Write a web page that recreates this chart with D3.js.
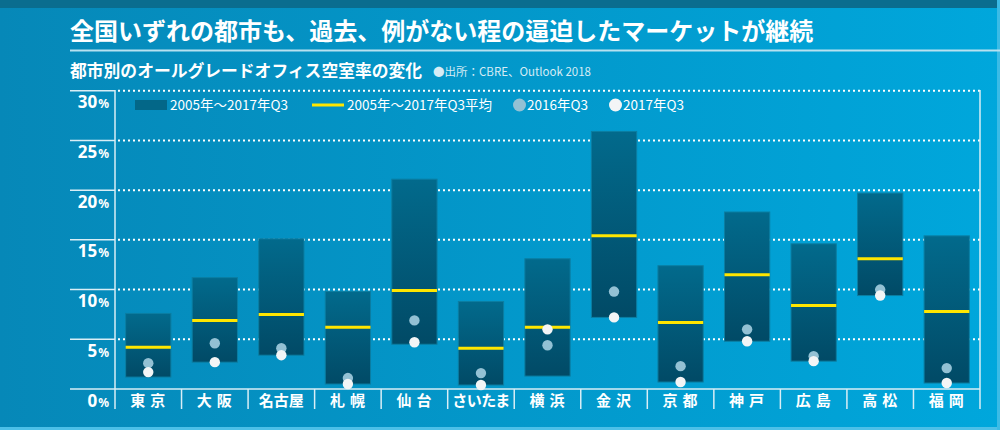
<!DOCTYPE html>
<html>
<head>
<meta charset="utf-8">
<script src="https://cdn.jsdelivr.net/npm/d3@7"></script>
<style>
    html, body { margin: 0; padding: 0; }
    body { width: 1000px; height: 430px; overflow: hidden; }
    svg { display: block; font-family: "Noto Sans CJK JP", "Noto Sans", sans-serif; }
</style>
</head>
<body>
<svg id="chart" width="1000" height="430"></svg>
<script>
/* global d3 */

// 都市別のオールグレードオフィス空室率 (%)
var cities = ["東京", "大阪", "名古屋", "札幌", "仙台", "さいたま", "横浜", "金沢", "京都", "神戸", "広島", "高松", "福岡"];
var rangeHigh = [7.6, 11.2, 15.1, 9.8, 21.1, 8.8, 13.1, 25.9, 12.4, 17.8, 14.6, 19.7, 15.4];
var rangeLow = [1.2, 2.7, 3.4, 0.5, 4.5, 0.4, 1.3, 7.2, 0.7, 4.8, 2.8, 9.4, 0.6];
var average = [4.2, 6.9, 7.5, 6.2, 9.9, 4.1, 6.2, 15.4, 6.7, 11.5, 8.4, 13.1, 7.8];
var q3_2016 = [2.6, 4.6, 4.1, 1.1, 6.9, 1.6, 4.4, 9.8, 2.3, 6.0, 3.3, 10.0, 2.1];
var q3_2017 = [1.7, 2.7, 3.4, 0.5, 4.7, 0.4, 6.0, 7.2, 0.7, 4.8, 2.8, 9.4, 0.6];
var yTicks = [0, 5, 10, 15, 20, 25, 30];

var title = "全国いずれの都市も、過去、例がない程の逼迫したマーケットが継続";
var subtitle = "都市別のオールグレードオフィス空室率の変化";
var source = "●出所：CBRE、Outlook 2018";

var legendItems = [
    { label: "2005年～2017年Q3", type: "bar" },
    { label: "2005年～2017年Q3平均", type: "avg" },
    { label: "2016年Q3", type: "dot16" },
    { label: "2017年Q3", type: "dot17" }
];

var colors = {
    avg: "#ffe600",
    dot16: "#93c1d4",
    dot17: "#f3f5f6",
    barStroke: "#0b7ea2"
};

var svg = d3.select("#chart");
var defs = svg.append("defs");

var bg = defs.append("linearGradient").attr("id", "bg")
    .attr("x1", "0").attr("x2", "1").attr("y1", "0").attr("y2", "0");
bg.append("stop").attr("offset", "0").attr("stop-color", "#0688b8");
bg.append("stop").attr("offset", "1").attr("stop-color", "#00a7dc");

var barGrad = defs.append("linearGradient").attr("id", "barGrad")
    .attr("x1", "0").attr("x2", "0").attr("y1", "0").attr("y2", "1");
barGrad.append("stop").attr("offset", "0").attr("stop-color", "#026a8c");
barGrad.append("stop").attr("offset", "1").attr("stop-color", "#014a66");

// background
svg.append("rect").attr("width", 1000).attr("height", 430).attr("fill", "url(#bg)");
svg.append("rect").attr("width", 1000).attr("height", 8).attr("fill", "#0a6d8f");
svg.append("rect").attr("y", 427).attr("width", 1000).attr("height", 3).attr("fill", "#4cc0e8");
svg.append("rect").attr("x", 997).attr("width", 3).attr("height", 430).attr("fill", "#3bbbe6");

// titles
svg.append("text")
    .attr("x", 70).attr("y", 40)
    .attr("fill", "#fff").attr("font-size", 24).attr("font-weight", "bold")
    .text(title);
svg.append("line")
    .attr("x1", 70).attr("x2", 1000).attr("y1", 50.5).attr("y2", 50.5)
    .attr("stroke", "#b7e1f0").attr("stroke-width", 2);
svg.append("text")
    .attr("x", 70).attr("y", 77)
    .attr("fill", "#fff").attr("font-size", 16.8).attr("font-weight", "bold")
    .text(subtitle);
svg.append("text")
    .attr("x", 433).attr("y", 76)
    .attr("fill", "#d6ecf5").attr("font-size", 11.5)
    .text(source);

var left = 115, right = 980;
var x = d3.scaleBand().domain(cities).range([left, right]).padding(0);
var xBar = d3.scaleBand().domain(cities).range([left, right])
    .paddingInner(0.32).paddingOuter(0.16);
var y = d3.scaleLinear().domain([0, 30]).range([389, 90.7]);

// gridlines (dotted)
svg.append("g").selectAll("line")
    .data(yTicks.filter(function (d) { return d > 0; }))
    .join("line")
    .attr("x1", left + 3).attr("x2", right)
    .attr("y1", function (d) { return y(d); })
    .attr("y2", function (d) { return y(d); })
    .attr("stroke", "#fff").attr("stroke-width", 2)
    .attr("stroke-dasharray", "2,3");

// y axis tick marks + labels
var yAxis = svg.append("g");
yAxis.selectAll("line")
    .data(yTicks)
    .join("line")
    .attr("x1", 70).attr("x2", left)
    .attr("y1", function (d) { return y(d); })
    .attr("y2", function (d) { return y(d); })
    .attr("stroke", "#d9eef6").attr("stroke-width", 1.5);
var yLabels = yAxis.selectAll("text")
    .data(yTicks)
    .join("text")
    .attr("x", 109).attr("y", function (d) { return y(d) + 17.5; })
    .attr("text-anchor", "end")
    .attr("fill", "#fff").attr("font-weight", "bold")
    .attr("font-family", "'Noto Sans', sans-serif");
yLabels.append("tspan").attr("font-size", 17).text(function (d) { return d; });
yLabels.append("tspan").attr("font-size", 12).attr("dx", 1).text("%");

// axis frame
svg.append("line")
    .attr("x1", left).attr("x2", left).attr("y1", 90).attr("y2", 409)
    .attr("stroke", "#d9eef6").attr("stroke-width", 1.5);
svg.append("line")
    .attr("x1", right).attr("x2", right).attr("y1", 90).attr("y2", 409)
    .attr("stroke", "#d9eef6").attr("stroke-width", 1.5);
svg.append("line")
    .attr("x1", left).attr("x2", right).attr("y1", y(0)).attr("y2", y(0))
    .attr("stroke", "#d9eef6").attr("stroke-width", 1.5);

// category dividers
svg.append("g").selectAll("line")
    .data(cities.slice(1))
    .join("line")
    .attr("x1", function (d) { return x(d); })
    .attr("x2", function (d) { return x(d); })
    .attr("y1", y(0)).attr("y2", 409)
    .attr("stroke", "#d9eef6").attr("stroke-width", 1.5);

// category labels
svg.append("g").selectAll("text")
    .data(cities)
    .join("text")
    .attr("x", function (d) { return x(d) + x.bandwidth() / 2 + (d.length === 2 ? 2 : 0); })
    .attr("y", 406)
    .attr("text-anchor", "middle")
    .attr("fill", "#fff").attr("font-size", 15).attr("font-weight", "bold")
    .attr("letter-spacing", function (d) { return d.length === 2 ? 5 : (d.length === 3 ? 0 : -0.5); })
    .text(function (d) { return d; });

// range bars
var rows = cities.map(function (c, i) {
    return { city: c, hi: rangeHigh[i], lo: rangeLow[i], avg: average[i], v16: q3_2016[i], v17: q3_2017[i] };
});

svg.append("g").selectAll("rect")
    .data(rows)
    .join("rect")
    .attr("x", function (d) { return xBar(d.city); })
    .attr("width", xBar.bandwidth())
    .attr("y", function (d) { return y(d.hi); })
    .attr("height", function (d) { return y(d.lo) - y(d.hi); })
    .attr("fill", "url(#barGrad)")
    .attr("stroke", colors.barStroke).attr("stroke-width", 1);

svg.append("g").selectAll("line")
    .data(rows)
    .join("line")
    .attr("x1", function (d) { return xBar(d.city); })
    .attr("x2", function (d) { return xBar(d.city) + xBar.bandwidth(); })
    .attr("y1", function (d) { return y(d.avg); })
    .attr("y2", function (d) { return y(d.avg); })
    .attr("stroke", colors.avg).attr("stroke-width", 3);

var cx = function (d) { return xBar(d.city) + xBar.bandwidth() / 2; };

svg.append("g").selectAll("circle")
    .data(rows)
    .join("circle")
    .attr("cx", cx)
    .attr("cy", function (d) { return y(d.v16); })
    .attr("r", 5.2)
    .attr("fill", colors.dot16);

svg.append("g").selectAll("circle")
    .data(rows)
    .join("circle")
    .attr("cx", cx)
    .attr("cy", function (d) { return y(d.v17); })
    .attr("r", 5.2)
    .attr("fill", colors.dot17);

// legend
var legendX = [135, 312, 513, 609];
var legend = svg.append("g");
legendItems.forEach(function (item, i) {
    var g = legend.append("g").attr("transform", "translate(" + legendX[i] + ",105)");
    var textX;
    if (item.type === "bar") {
        g.append("rect").attr("x", 0).attr("y", -5).attr("width", 32).attr("height", 10)
            .attr("fill", "#036788");
        textX = 35;
    } else if (item.type === "avg") {
        g.append("line").attr("x1", 0).attr("x2", 32).attr("y1", 0).attr("y2", 0)
            .attr("stroke", colors.avg).attr("stroke-width", 3);
        textX = 35;
    } else {
        g.append("circle").attr("cx", 6.5).attr("cy", 0).attr("r", 6.5)
            .attr("fill", colors[item.type]);
        textX = 14;
    }
    g.append("text").attr("x", textX).attr("y", 5)
        .attr("fill", "#fff").attr("font-size", 13.5)
        .text(item.label);
});
</script>
</body>
</html>
